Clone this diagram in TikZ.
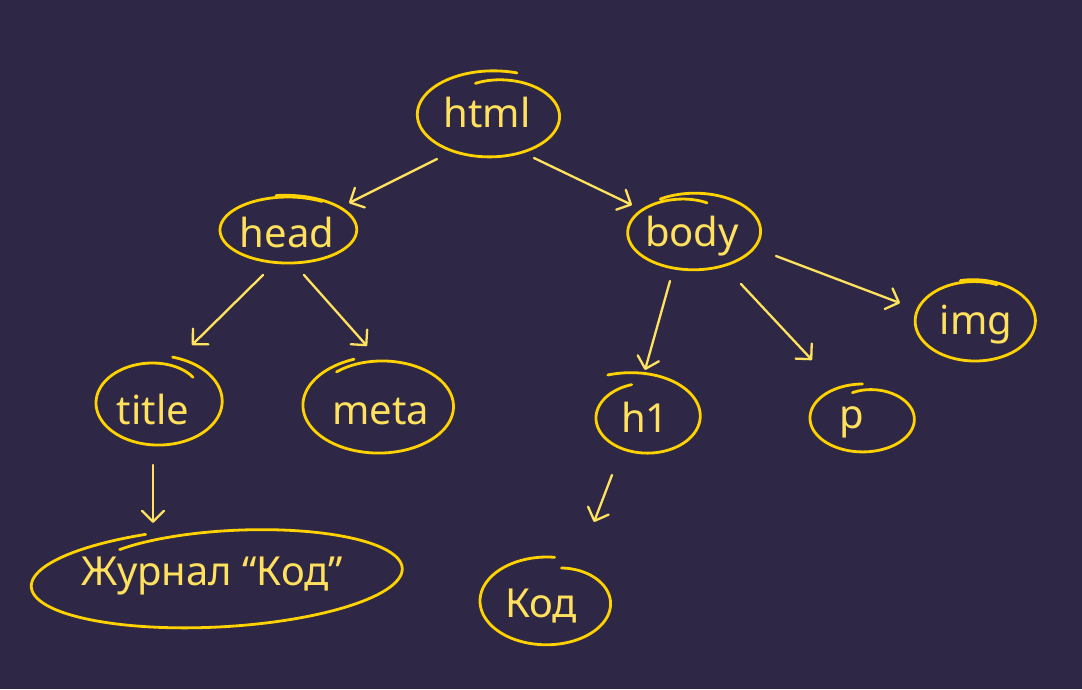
\documentclass[tikz,border=0pt]{standalone}
\usepackage{fontspec}
\setmainfont{Noto Sans}
\usetikzlibrary{arrows.meta,calc}
\definecolor{bg}{HTML}{2E2846}
\definecolor{ringc}{HTML}{FFD200}
\definecolor{inkc}{HTML}{FFE15E}
\definecolor{arrowc}{HTML}{FFE35F}

% hand-drawn loop: [extra opts] cx cy rx ry start-angle sweep start-dev end-dev
\newcommand\ringloop[9][]{%
  \draw[ring,#1] plot[smooth,domain=0:1,samples=120,variable=\t]
    ({#2+#4*(1+(#8)*(1-\t)^6+(#9)*\t^6)*cos(#6+(#7)*\t)},
     {#3+#5*(1+(#8)*(1-\t)^6+(#9)*\t^6)*sin(#6+(#7)*\t)});}

\tikzset{
  ring/.style={draw=ringc,line width=2.8pt,line cap=round,line join=round},
  lbl/.style={text=inkc,font=\fontsize{40}{44}\selectfont,inner sep=0pt,anchor=base},
  conn/.style={draw=arrowc,line width=2.3pt,line cap=round,
    -{Straight Barb[length=11pt,width=22pt,line cap=round,line join=round]}},
}

\begin{document}
\begin{tikzpicture}[x=1pt,y=-1pt]
\fill[bg] (0,0) rectangle (1082,689);
\useasboundingbox (0,0) rectangle (1082,689);

% labels
\node[lbl] (html)  at (487,127) {html};
\node[lbl] (head)  at (287,247) {head};
\node[lbl] (body)  at (692,246) {body};
\node[lbl] (img)   at (976,334) {img};
\node[lbl] (title) at (153,424) {title};
\node[lbl] (meta)  at (381,424) {meta};
\node[lbl] (h1)    at (645,432) {h1};
\node[lbl] (p)     at (852,428) {p};
\node[lbl] (jour)  at (212,585) {Журнал “Код”};
\node[lbl] (kod)   at (541,617) {Код};

% loops around the labels
\ringloop{490}{115}{72}{42}{-105}{396}{-0.22}{0.07}
\ringloop{288}{230}{68}{33}{-60}{-400}{0}{0.06}
\ringloop{693}{231}{68}{39}{-74}{-407}{-0.25}{-0.05}
\ringloop{975}{321}{60}{40}{-68}{-396}{-0.02}{0.04}
\ringloop{158}{402}{63}{43}{-46}{-392}{-0.2}{0.07}
\ringloop{379}{406}{75}{47}{-128}{380}{-0.08}{0.05}
\ringloop{647}{418}{51}{35}{-122}{375}{0.45}{0}
\ringloop{863}{418}{53}{34}{-105}{375}{-0.23}{0}
\ringloop[rotate around={3:(218,577)}]{218}{577}{187}{50}{-112}{-377}{0}{-0.17}
\ringloop{547}{601}{67}{44}{-74}{351}{-0.22}{0}

% connectors
\draw[conn] ($(html.base)+(-50,32)$) -- ($(head.base)+(62,-44)$);
\draw[conn] ($(html.base)+(47,31)$)  -- ($(body.base)+(-60,-41)$);
\draw[conn] ($(head.base)+(-24,28)$) -- ($(title.base)+(39,-79)$);
\draw[conn] ($(head.base)+(17,28)$)  -- ($(meta.base)+(-14,-78)$);
\draw[conn] ($(body.base)+(-22,35)$) -- ($(h1.base)+(0,-62)$);
\draw[conn] ($(body.base)+(49,38)$)  -- ($(p.base)+(-40,-68)$);
\draw[conn] ($(body.base)+(84,10)$)  -- ($(img.base)+(-76,-31)$);
\draw[conn] ($(title.base)+(0,41)$)  -- ($(jour.base)+(-59,-62)$);
\draw[conn] ($(h1.base)+(-33,43)$)   -- ($(kod.base)+(53,-95)$);
\end{tikzpicture}
\end{document}
